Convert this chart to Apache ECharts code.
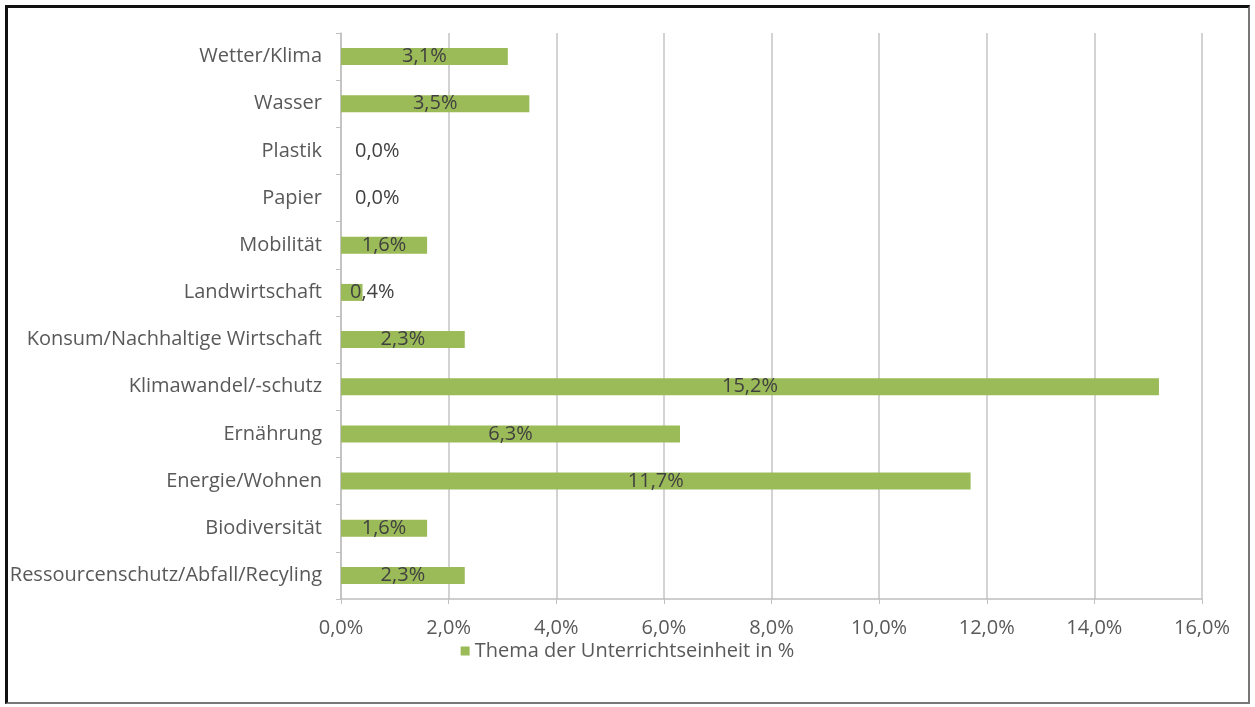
<!DOCTYPE html>
<html><head><meta charset="utf-8">
<script src="https://cdn.jsdelivr.net/npm/echarts@6/dist/echarts.min.js"></script>
<style>
html,body{margin:0;padding:0;background:#fff;}
#frame{position:absolute;left:5px;top:5px;width:1245px;height:699px;border-top:3px solid #111;border-left:3px solid #111;border-right:2px solid #777;border-bottom:2px solid #777;box-sizing:border-box;}
#c{position:absolute;left:0;top:0;width:1255px;height:707px;}
</style></head>
<body><div id="c"></div><div id="frame"></div>
<script>
const categories = ["Ressourcenschutz/Abfall/Recyling","Biodiversität","Energie/Wohnen","Ernährung","Klimawandel/-schutz","Konsum/Nachhaltige Wirtschaft","Landwirtschaft","Mobilität","Papier","Plastik","Wasser","Wetter/Klima"];
const values = [2.3,1.6,11.7,6.3,15.2,2.3,0.4,1.6,0.0,0.0,3.5,3.1];
const seriesName = "Thema der Unterrichtseinheit in %";
const fmt = v => v.toFixed(1).replace('.', ',') + '%';
const font = 'Open Sans';
const fs = 20;
const chart = echarts.init(document.getElementById('c'));
chart.setOption({
  animation:false,
  grid:{left:341,right:53,top:33,bottom:108},
  xAxis:{type:'value',min:0,max:16,interval:2,
    axisLabel:{formatter:v=>fmt(v),color:'#595959',fontFamily:font,fontSize:fs,margin:19},
    axisLine:{show:true,lineStyle:{color:'#bfbfbf',width:1.5}},
    axisTick:{show:true,length:5,lineStyle:{color:'#bfbfbf'}},
    splitLine:{show:true,lineStyle:{color:'#c4c4c4',width:1.5}}},
  yAxis:{type:'category',data:categories,
    axisLabel:{color:'#595959',fontFamily:font,fontSize:fs,margin:19},
    axisLine:{show:true,lineStyle:{color:'#bfbfbf',width:1.5}},
    axisTick:{show:true,length:5,lineStyle:{color:'#bfbfbf'}}},
  legend:{bottom:41,left:'center',itemWidth:9,itemHeight:9,icon:'rect',itemGap:10,
    textStyle:{color:'#595959',fontFamily:font,fontSize:fs}},
  series:[{name:seriesName,type:'bar',barWidth:17,
    itemStyle:{color:'#9BBB59'},
    data:values.map(v=>({value:v,label: v<1 ? {position:'insideLeft',distance: v===0?14:9} : {position:'inside'}})),
    label:{show:true,formatter:p=>fmt(p.value),color:'#404040',fontFamily:font,fontSize:fs}
  }]
});
</script></body></html>
